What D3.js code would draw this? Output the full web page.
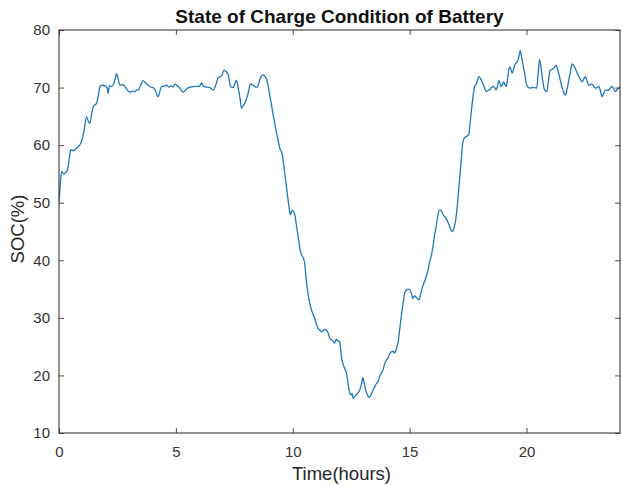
<!DOCTYPE html>
<html>
<head>
<meta charset="utf-8">
<script src="https://cdn.jsdelivr.net/npm/d3@7"></script>
<style>
  html, body { margin: 0; padding: 0; background: #fff; }
  svg { display: block; font-family: "Liberation Sans", Arial, Helvetica, sans-serif; }
</style>
</head>
<body>
<svg id="chart" width="622" height="486"></svg>
<script>
// Battery state of charge over one day
const hours = [
  0.00,0.05,0.11,0.20,0.28,0.37,0.45,0.51,0.61,0.72,0.83,0.95,1.05,1.18,1.25,1.32,1.40,1.47,1.61,1.68,
  1.75,1.85,1.97,2.05,2.11,2.15,2.25,2.32,2.40,2.46,2.54,2.61,2.72,2.82,2.92,3.03,3.15,3.25,3.32,3.39,
  3.50,3.60,3.70,3.82,3.92,4.03,4.12,4.24,4.32,4.39,4.50,4.60,4.70,4.80,4.88,4.96,5.06,5.17,5.31,5.42,
  5.53,5.65,5.80,5.95,6.03,6.10,6.18,6.30,6.45,6.60,6.72,6.80,6.88,6.96,7.05,7.14,7.24,7.34,7.45,7.52,
  7.59,7.67,7.75,7.81,7.90,7.95,8.09,8.19,8.28,8.38,8.46,8.52,8.60,8.66,8.75,8.80,8.88,8.94,9.02,9.09,
  9.16,9.23,9.30,9.37,9.44,9.52,9.57,9.62,9.73,9.84,9.90,9.97,10.03,10.09,10.16,10.23,10.33,10.44,10.51,10.58,
  10.66,10.73,10.80,10.87,10.95,11.02,11.08,11.15,11.23,11.30,11.37,11.44,11.52,11.58,11.65,11.72,11.79,11.87,11.93,12.00,
  12.05,12.08,12.15,12.22,12.30,12.37,12.44,12.50,12.54,12.58,12.65,12.72,12.80,12.87,12.94,13.00,13.05,13.12,13.19,13.26,
  13.33,13.43,13.50,13.58,13.65,13.72,13.80,13.86,13.93,14.00,14.07,14.15,14.22,14.29,14.36,14.43,14.50,14.57,14.64,14.72,
  14.79,14.88,14.97,15.05,15.10,15.14,15.21,15.28,15.35,15.40,15.48,15.57,15.68,15.78,15.86,15.93,16.00,16.07,16.14,16.21,
  16.28,16.36,16.43,16.50,16.57,16.64,16.72,16.78,16.82,16.90,16.97,17.04,17.11,17.18,17.24,17.28,17.35,17.42,17.53,17.58,
  17.63,17.70,17.78,17.85,17.92,17.96,18.03,18.10,18.18,18.28,18.35,18.42,18.50,18.56,18.63,18.70,18.76,18.82,18.87,18.92,
  18.97,19.02,19.08,19.13,19.20,19.27,19.33,19.39,19.46,19.53,19.60,19.67,19.73,19.78,19.84,19.92,19.99,20.06,20.13,20.24,
  20.34,20.44,20.50,20.56,20.62,20.67,20.72,20.77,20.87,20.94,21.01,21.11,21.20,21.27,21.34,21.41,21.48,21.55,21.61,21.67,
  21.74,21.81,21.88,21.95,22.02,22.09,22.16,22.24,22.31,22.38,22.45,22.52,22.59,22.66,22.73,22.81,22.88,22.95,23.02,23.10,
  23.16,23.23,23.30,23.38,23.45,23.52,23.59,23.66,23.73,23.80,23.88,23.97,24.00
];
const soc = [
  50.0,53.0,55.4,55.0,55.2,55.8,58.0,59.2,59.0,59.4,59.8,60.5,62.0,64.9,64.2,63.8,65.5,66.7,67.3,68.5,
  70.2,70.4,70.3,70.0,69.0,70.3,70.2,70.5,71.5,72.4,71.3,70.4,70.5,70.2,69.6,69.2,69.4,69.3,69.6,69.6,
  70.5,71.2,70.8,70.4,70.1,70.0,69.5,68.4,69.4,70.2,70.2,70.4,70.1,70.3,70.1,70.6,70.3,69.9,69.2,69.6,
  70.0,70.1,70.2,70.2,70.3,70.8,70.2,70.1,70.0,69.6,70.6,71.6,71.9,72.0,73.0,72.8,72.2,70.2,70.0,70.6,
  71.3,69.8,68.0,66.4,67.0,67.3,69.0,70.7,70.4,70.2,70.0,70.4,71.5,72.0,72.2,72.0,71.5,70.5,68.5,67.0,
  65.3,63.8,62.2,60.9,59.5,58.8,58.0,56.3,52.8,49.3,47.9,48.7,48.5,47.9,46.0,44.1,41.5,40.5,39.5,36.5,
  34.0,32.5,31.4,30.6,29.8,28.8,28.2,27.9,27.6,27.8,28.0,27.9,27.3,26.5,26.2,26.0,25.6,26.3,26.0,25.9,
  24.5,23.3,22.0,21.2,20.4,18.5,16.9,16.6,16.9,16.0,16.3,16.6,17.0,17.5,18.5,19.6,18.8,17.5,16.7,16.2,
  16.5,17.4,18.0,18.6,19.0,19.8,20.5,20.9,22.0,22.6,23.0,23.8,24.1,24.2,23.9,24.6,25.6,27.8,30.2,32.5,
  34.3,34.9,35.0,34.5,33.8,33.4,33.8,33.6,33.3,33.1,34.3,35.6,36.8,38.2,39.8,40.8,42.4,44.4,46.0,47.8,
  48.7,48.6,48.0,47.6,47.2,46.6,45.8,45.2,45.0,45.6,47.0,49.5,52.8,56.0,59.0,60.6,61.3,61.5,61.8,63.5,
  65.5,68.0,70.2,70.6,71.5,71.9,71.6,71.0,70.2,69.3,69.5,69.6,70.0,70.2,70.0,69.6,70.3,71.2,70.6,70.2,
  70.5,71.0,70.5,70.2,71.8,73.6,73.2,72.5,73.4,74.2,74.4,75.3,76.4,75.5,74.2,72.5,70.7,70.1,69.9,70.0,
  70.0,69.9,72.5,74.9,73.5,71.9,70.5,69.6,69.3,71.2,73.0,73.2,73.5,73.9,73.0,71.9,70.7,69.6,69.0,68.7,
  69.8,71.3,72.8,74.1,73.8,73.3,72.6,71.9,71.4,71.0,71.5,71.9,71.2,70.4,70.5,70.6,70.2,69.9,70.0,70.2,
  69.5,68.4,69.0,69.6,69.5,69.6,69.9,70.2,69.8,69.3,69.7,70.0,70.0
];
const xTicks = [0, 5, 10, 15, 20];
const yTicks = [10, 20, 30, 40, 50, 60, 70, 80];

const titleText = "State of Charge Condition of Battery";
const xLabel = "Time(hours)";
const yLabel = "SOC(%)";

const svg = d3.select("#chart");
const margin = { top: 30, right: 2, bottom: 53, left: 59 };
const W = 622, H = 486;
const iw = W - margin.left - margin.right;
const ih = H - margin.top - margin.bottom;

const x = d3.scaleLinear().domain([0, 24]).range([0, iw]);
const y = d3.scaleLinear().domain([10, 80]).range([ih, 0]);

const ink = "#262626";
const g = svg.append("g").attr("transform", `translate(${margin.left},${margin.top})`);

// data line (clipped to the axes box)
g.append("clipPath").attr("id", "clip")
  .append("rect").attr("width", iw).attr("height", ih);

const points = hours.map((h, i) => [h, soc[i]]);
const line = d3.line().x(d => x(d[0])).y(d => y(d[1])).curve(d3.curveMonotoneX);
g.append("path")
  .datum(points)
  .attr("clip-path", "url(#clip)")
  .attr("fill", "none")
  .attr("stroke", "#2077b8")
  .attr("stroke-width", 1.3)
  .attr("stroke-linejoin", "round")
  .attr("d", line);

// axes: ticks point inward, box on all four sides
const tickLen = 5;
const styleAxis = sel => {
  sel.select(".domain").remove();
  sel.selectAll(".tick line").attr("stroke", ink).attr("stroke-width", 0.8);
  sel.selectAll(".tick text").attr("fill", "#333").attr("font-size", 15)
    .attr("font-family", "'Liberation Sans', Arial, sans-serif");
};

g.append("g").attr("transform", `translate(0,${ih})`)
  .call(d3.axisBottom(x).tickValues(xTicks).tickSizeInner(-tickLen).tickSizeOuter(0).tickPadding(13).tickFormat(d3.format("d")))
  .call(styleAxis);
g.append("g")
  .call(d3.axisTop(x).tickValues(xTicks).tickSizeInner(-tickLen).tickSizeOuter(0).tickFormat(""))
  .call(styleAxis);
g.append("g")
  .call(d3.axisLeft(y).tickValues(yTicks).tickSizeInner(-tickLen).tickSizeOuter(0).tickPadding(9).tickFormat(d3.format("d")))
  .call(styleAxis);
g.append("g").attr("transform", `translate(${iw},0)`)
  .call(d3.axisRight(y).tickValues(yTicks).tickSizeInner(-tickLen).tickSizeOuter(0).tickFormat(""))
  .call(styleAxis);

g.append("rect")
  .attr("width", iw).attr("height", ih)
  .attr("fill", "none").attr("stroke", ink).attr("stroke-width", 1);

// title and axis labels
svg.append("text")
  .attr("x", margin.left + iw / 2).attr("y", 23)
  .attr("text-anchor", "middle")
  .attr("font-size", 19).attr("font-weight", "bold").attr("fill", "#111")
  .text(titleText);

svg.append("text")
  .attr("x", margin.left + iw / 2 + 2).attr("y", 480)
  .attr("text-anchor", "middle")
  .attr("font-size", 18.5).attr("fill", ink)
  .text(xLabel);

svg.append("text")
  .attr("transform", `translate(23.5,229) rotate(-90)`)
  .attr("text-anchor", "middle")
  .attr("font-size", 18.5).attr("fill", ink)
  .text(yLabel);
</script>
</body>
</html>
